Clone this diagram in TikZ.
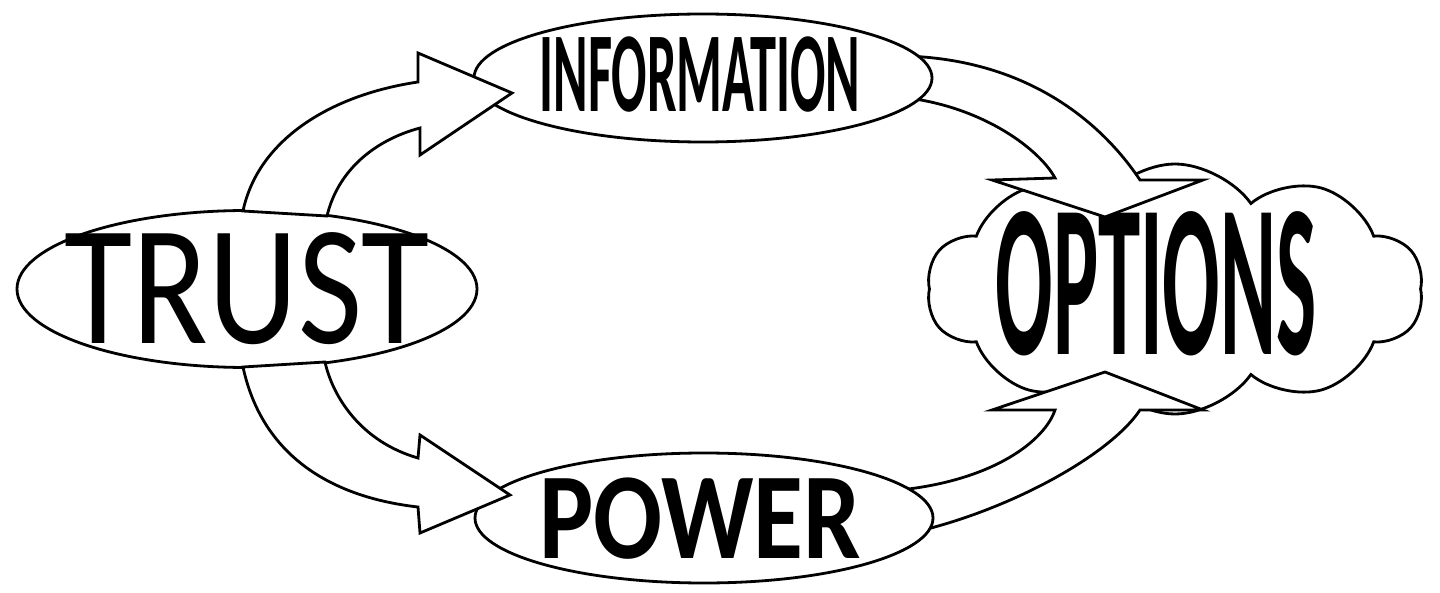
\documentclass[tikz,border=0pt]{standalone}
\usepackage{fontspec}
\setmainfont{Carlito}
\usetikzlibrary{shapes.geometric,shapes.symbols}

\begin{document}
\begin{tikzpicture}[x=1pt, y=-1pt, line width=2.8pt,
	oval/.style={draw, ellipse, fill=white, inner sep=0pt},
	fatarrow/.style={draw, fill=white, line join=miter},
	word/.style={inner sep=0pt}]
	\useasboundingbox (0,0) rectangle (1440,593);
	
	\node[draw, cloud, cloud puffs=10, cloud puff arc=110, aspect=2.1, fill=white,
		minimum width=496pt, minimum height=250pt, inner sep=0pt] (optcloud) at (1175,289) {};
	\node[word, font=\fontsize{218}{218}\bfseries] (options) at (1156,284) {\scalebox{0.39}[1]{OPTIONS}};
	
	% arrows into the cloud
	\draw[fatarrow] (905,56) .. controls (1040,60) and (1110,135) .. (1140,180) -- (1203,180) -- (1105,217)
		-- (992,180) -- (1055,178) .. controls (1040,150) and (985,108) .. (908,98) -- cycle;
	\draw[fatarrow] (915,532) .. controls (1010,510) and (1110,455) .. (1140,410) -- (1203,410) -- (1105,372)
		-- (992,410) -- (1055,410) .. controls (1045,440) and (995,480) .. (900,490) -- cycle;
	
	\node[oval, minimum width=458pt, minimum height=128pt] (info) at (703,78) {};
	\node[oval, minimum width=458pt, minimum height=130pt] (power) at (704,518) {};
	\node[oval, minimum width=460pt, minimum height=157pt] (trust) at (247,289) {};
	
	\node[word, font=\fontsize{171}{171}\selectfont] (trusttext) at (trust.center) {\scalebox{0.816}[1]{TRUST}};
	\node[word, font=\fontsize{114}{114}\bfseries] (infotext) at (700,75) {\scalebox{0.46}[1]{INFORMATION}};
	\node[word, font=\fontsize{123}{123}\bfseries] (powertext) at (700,519) {\scalebox{0.83}[1]{POWER}};
	
	% arrows out of trust
	\draw[fatarrow] (243,211) .. controls (258,140) and (330,95) .. (418,82) -- (418,53) -- (512,93)
		-- (420,155) -- (420,128) .. controls (375,140) and (338,170) .. (327,216) -- cycle;
	\draw[fatarrow] (243,367) .. controls (262,455) and (330,497) .. (418,507) -- (420,533) -- (510,495)
		-- (420,435) -- (418,458) .. controls (362,442) and (333,398) .. (325,362) -- cycle;
\end{tikzpicture}
\end{document}
